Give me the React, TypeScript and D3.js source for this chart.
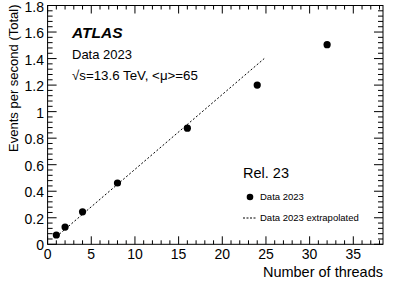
import React from "react";
import * as d3 from "d3";

const threads = [1, 2, 4, 8, 16, 24, 32];
const eventsPerSec = [0.07, 0.13, 0.245, 0.462, 0.875, 1.2, 1.505];
const extrapThreads = [1, 24.8];
const extrapEvents = [0.057, 1.4];
const xMajorTicks = [0, 5, 10, 15, 20, 25, 30, 35];
const yMajorTicks = [0, 0.2, 0.4, 0.6, 0.8, 1, 1.2, 1.4, 1.6, 1.8];

const W = 399, H = 286;
const L = 47.6, R = 383, T = 5.5, B = 244.3;

export default function App() {
  const x = d3.scaleLinear().domain([0, 38.4]).range([L, R]);
  const y = d3.scaleLinear().domain([0, 1.8]).range([B, T]);
  const xMinor = d3.range(0, 38.4001, 1);
  const yMinor = d3.range(0, 1.8001, 0.04);
  const font = "'Liberation Sans', Arial, sans-serif";
  const line = d3.line<number>().x((d) => x(d)).y((_, i) => y(extrapEvents[i]));
  const fmt = (v: number) => (v === 0 ? "0" : Number.isInteger(v) ? String(v) : v.toFixed(1));
  return (
    <svg width={W} height={H} style={{ position: "absolute", left: 0, top: 0 }} fontFamily={font}>
      <rect x={0} y={0} width={W} height={H} fill="#fff" />
      <rect x={L} y={T} width={R - L} height={B - T} fill="none" stroke="#000" strokeWidth={1} />
      {xMinor.map((v, i) => {
        const major = Math.abs(v % 5) < 1e-6;
        const len = major ? 8 : 4;
        return (
          <g key={"xm" + i} stroke="#000" strokeWidth={1}>
            <line x1={x(v)} x2={x(v)} y1={B} y2={B - len} />
            <line x1={x(v)} x2={x(v)} y1={T} y2={T + len} />
          </g>
        );
      })}
      {yMinor.map((v, i) => {
        const major = Math.abs((v / 0.2) - Math.round(v / 0.2)) < 1e-6;
        const len = major ? 9 : 5;
        return (
          <g key={"ym" + i} stroke="#000" strokeWidth={1}>
            <line x1={L} x2={L + len} y1={y(v)} y2={y(v)} />
            <line x1={R} x2={R - len} y1={y(v)} y2={y(v)} />
          </g>
        );
      })}
      {xMajorTicks.map((v) => (
        <text key={"xl" + v} x={x(v)} y={259} fontSize={14} textAnchor="middle">{v}</text>
      ))}
      {yMajorTicks.map((v) => (
        <text key={"yl" + v} x={44} y={y(v) + 6} fontSize={14} textAnchor="end">{fmt(v)}</text>
      ))}
      <text x={R} y={277} fontSize={14.5} textAnchor="end">Number of threads</text>
      <text transform={`translate(18,${T - 1}) rotate(-90)`} fontSize={13} textAnchor="end">Events per second (Total)</text>
      <path d={line(extrapThreads) || ""} fill="none" stroke="#000" strokeWidth={1} strokeDasharray="2,2" />
      {threads.map((t, i) => (
        <circle key={"p" + i} cx={x(t)} cy={y(eventsPerSec[i])} r={3.6} fill="#000" />
      ))}
      <text x={72} y={38} fontSize={15.5} fontWeight="bold" fontStyle="italic">ATLAS</text>
      <text x={72} y={59} fontSize={13}>Data 2023</text>
      <text x={72} y={80} fontSize={13.3}>√s=13.6 TeV, &lt;μ&gt;=65</text>
      <text x={243} y={178} fontSize={14.5}>Rel. 23</text>
      <circle cx={250} cy={197} r={3.3} fill="#000" />
      <text x={260} y={200} fontSize={9.5}>Data 2023</text>
      <line x1={243} x2={257} y1={218} y2={218} stroke="#000" strokeWidth={1} strokeDasharray="2,1.5" />
      <text x={260} y={221} fontSize={9.5}>Data 2023 extrapolated</text>
    </svg>
  );
}
